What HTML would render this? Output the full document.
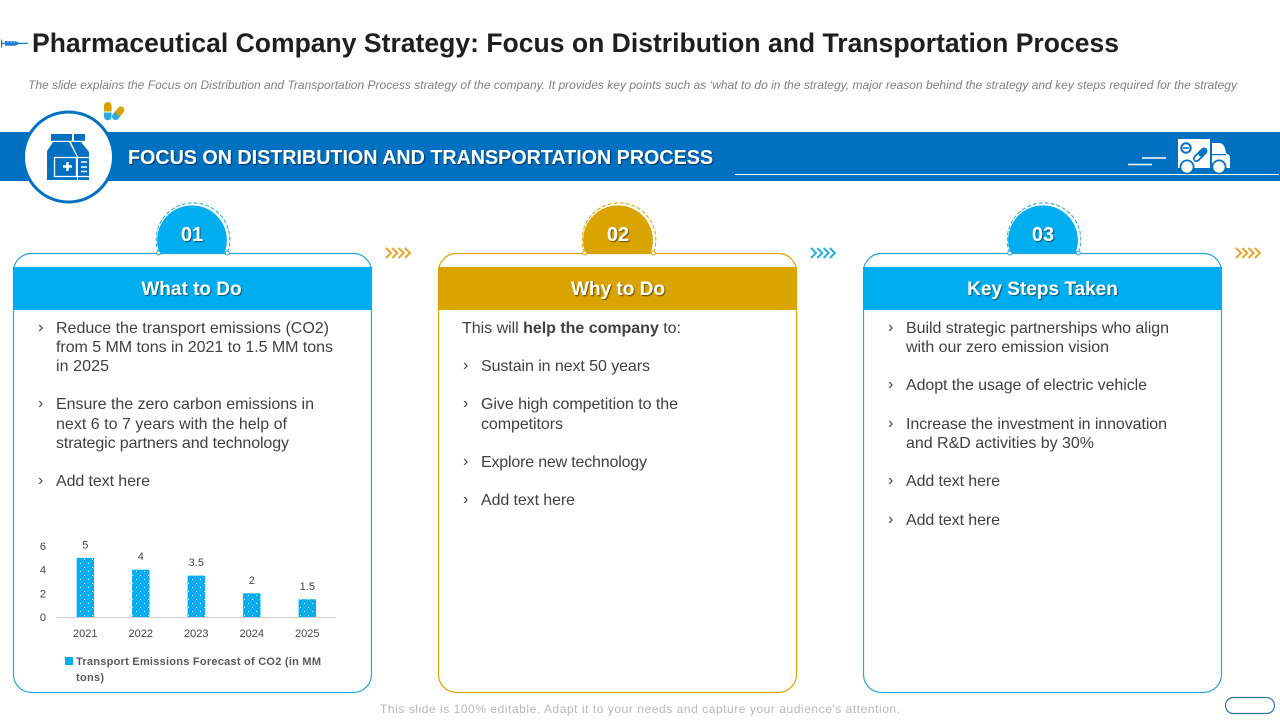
<!DOCTYPE html>
<html lang="en">
<head>
<meta charset="utf-8">
<title>Pharmaceutical Company Strategy</title>
<style>
html,body{margin:0;padding:0;background:#fff;width:1280px;height:720px;overflow:hidden}
svg{display:block;font-family:"Liberation Sans",sans-serif}
.body-text{font-size:16px;fill:#404040}
.head{font-size:19px;font-weight:700;fill:#fff;text-anchor:middle;filter:url(#shadow)}
.num{font-size:20px;font-weight:700;fill:#fff;text-anchor:middle;filter:url(#shadow)}
.tick{font-size:11px;fill:#444}
</style>
</head>
<body>
<svg width="1280" height="720" viewBox="0 0 1280 720">
<defs>
<filter id="shadow" x="-10%" y="-20%" width="120%" height="150%"><feDropShadow dx="1" dy="1" stdDeviation="0.6" flood-color="#000" flood-opacity="0.55"/></filter>
<pattern id="dots" width="8" height="8" patternUnits="userSpaceOnUse"><rect width="8" height="8" fill="#00aeef"/><rect x="0" y="3" width="1" height="1" fill="#e6f8ff"/><rect x="4" y="7" width="1" height="1" fill="#e6f8ff"/></pattern>
<g id="chev" fill="none" stroke-width="2"><path d="M0 -5 L5 0 L0 5"/><path d="M6.300 -5 L11.300 0 L6.300 5"/><path d="M12.600 -5 L17.600 0 L12.600 5"/><path d="M18.900 -5 L23.900 0 L18.900 5"/></g>
</defs>
<rect width="1280" height="720" fill="#fff"/>

<g fill="#1a7fd0"><rect x="1" y="39.500" width="1.200" height="8"/><rect x="2" y="42.700" width="3" height="1.500"/><path d="M5 41H15L19 42.800H28V44H19L15 45.800H5Z"/><path d="M8 41v2M11 41v2M14 41v2" stroke="#cfe6f8" stroke-width="0.800"/></g>
<text x="32" y="52" font-size="27" font-weight="700" fill="#1f1f1f" textLength="1087" lengthAdjust="spacingAndGlyphs">Pharmaceutical Company Strategy: Focus on Distribution and Transportation Process</text>
<text x="28" y="89" font-size="12" font-style="italic" fill="#808080" textLength="1209" lengthAdjust="spacing">The slide explains the Focus on Distribution and Transportation Process strategy of the company. It provides key points such as ‘what to do in the strategy, major reason behind the strategy and key steps required for the strategy</text>

<g>
<path d="M104 111.500V105.800a3.800 3.800 0 0 1 7.600 0V111.500Z" fill="#d9a300"/>
<path d="M104 112.500H111.600V116.500a3.800 3.800 0 0 1 -7.600 0Z" fill="#29abe2"/>
<line x1="115.500" y1="116.500" x2="118" y2="113.500" stroke="#29abe2" stroke-width="7" stroke-linecap="round"/>
<line x1="119" y1="112.300" x2="120.800" y2="110" stroke="#d9a300" stroke-width="7" stroke-linecap="round"/>
</g>

<rect x="0" y="132" width="1280" height="49" fill="#0070c0"/>
<circle cx="68.500" cy="157" r="45" fill="#fff" stroke="#0070c0" stroke-width="3"/>
<g>
<rect x="51" y="134" width="21" height="6.800" fill="#0070c0"/><rect x="74" y="134" width="11" height="6.800" fill="#0070c0"/>
<path d="M53 142H69L77 157V180H47V151Z" fill="#0070c0"/>
<path d="M71 142H81L89 152V180H78V157Z" fill="#0070c0"/>
<rect x="54.500" y="157.500" width="22" height="19" fill="none" stroke="#fff" stroke-width="1.300"/>
<path d="M77 157.500H89M77 176.500H89" stroke="#fff" stroke-width="1.200" fill="none"/>
<path d="M63 166.500h9M67.500 162v9" stroke="#fff" stroke-width="2.400"/>
<path d="M81 162h6M81 167h6M81 171.500h6" stroke="#fff" stroke-width="1.500"/>
</g>
<text x="128" y="164" font-size="20" font-weight="700" fill="#fff" textLength="585" lengthAdjust="spacingAndGlyphs" filter="url(#shadow)">FOCUS ON DISTRIBUTION AND TRANSPORTATION PROCESS</text>
<line x1="735" y1="174.500" x2="1279" y2="174.500" stroke="#fff" stroke-width="1"/>
<g>
<path d="M1142 158h24M1128 164.500h24" stroke="#fff" stroke-width="1.500"/>
<rect x="1178" y="139" width="32" height="29" fill="#fff"/>
<path d="M1212 143h7c4 0 6 3 7 10l4 3v12h-18z" fill="#fff"/>
<rect x="1212" y="154" width="14" height="1.200" fill="#0070c0"/>
<circle cx="1187" cy="167" r="7.500" fill="#0070c0"/><circle cx="1187" cy="167" r="5.700" fill="#fff"/>
<circle cx="1219" cy="167" r="7.500" fill="#0070c0"/><circle cx="1219" cy="167" r="5.700" fill="#fff"/>
<circle cx="1186" cy="148" r="4.700" fill="none" stroke="#0070c0" stroke-width="2"/><path d="M1183 148h6" stroke="#0070c0" stroke-width="1.600"/>
<line x1="1196.500" y1="158.500" x2="1204" y2="151" stroke="#0070c0" stroke-width="7" stroke-linecap="round"/>
<line x1="1196.500" y1="158.500" x2="1204" y2="151" stroke="#fff" stroke-width="3.500" stroke-linecap="round"/>
<line x1="1200.500" y1="154.500" x2="1204" y2="151" stroke="#0070c0" stroke-width="3.500" stroke-linecap="round"/>
</g>

<g>
<rect x="13.500" y="253.500" width="358" height="439" rx="18" fill="#fff" stroke="#2aa5d8" stroke-width="1.200"/>
<rect x="13" y="267" width="359" height="43" fill="#00aeef"/>
<path d="M159.500 253A34.900 34.900 0 1 1 224.500 253Z" fill="#00aeef"/>
<path d="M158.700 253A36.800 36.800 0 1 1 227.300 253" fill="none" stroke="#2aa5d8" stroke-width="1" stroke-dasharray="4 2"/>
<circle cx="158.700" cy="253" r="2" fill="#fff" stroke="#2aa5d8"/><circle cx="227.300" cy="253" r="2" fill="#fff" stroke="#2aa5d8"/>
<text x="192" y="241" class="num">01</text>
<text x="191.500" y="295" class="head">What to Do</text>
<g class="body-text">
<text x="38" y="332">›</text>
<text x="56" y="333" textLength="273">Reduce the transport emissions (CO2)</text>
<text x="56" y="352" textLength="277">from 5 MM tons in 2021 to 1.5 MM tons</text>
<text x="56" y="371" textLength="53">in 2025</text>
<text x="38" y="408">›</text>
<text x="56" y="409" textLength="258">Ensure the zero carbon emissions in</text>
<text x="56" y="429" textLength="231">next 6 to 7 years with the help of</text>
<text x="56" y="448" textLength="233">strategic partners and technology</text>
<text x="38" y="485">›</text>
<text x="56" y="486" textLength="94">Add text here</text>
</g>
</g>
<g id="chart"></g>
<g>
<rect x="65" y="657" width="8" height="8" fill="#00aeef"/>
<text x="76" y="665" font-size="11" font-weight="700" fill="#595959" textLength="245">Transport Emissions Forecast of CO2 (in MM</text>
<text x="76" y="681" font-size="11" font-weight="700" fill="#595959" textLength="28">tons)</text>
</g>
<use href="#chev" x="386" y="253" stroke="#e0a82a"/>

<g>
<rect x="438.500" y="253.500" width="358" height="439" rx="18" fill="#fff" stroke="#d9a300" stroke-width="1.200"/>
<rect x="438" y="267" width="359" height="43" fill="#d9a300"/>
<path d="M585.500 253A34.900 34.900 0 1 1 650.500 253Z" fill="#d9a300"/>
<path d="M584.700 253A36.800 36.800 0 1 1 653.300 253" fill="none" stroke="#d9a300" stroke-width="1" stroke-dasharray="4 2"/>
<circle cx="584.700" cy="253" r="2" fill="#fff" stroke="#d9a300"/><circle cx="653.300" cy="253" r="2" fill="#fff" stroke="#d9a300"/>
<text x="618" y="241" class="num">02</text>
<text x="618" y="295" class="head">Why to Do</text>
<g class="body-text">
<text x="462" y="333" textLength="219">This will <tspan font-weight="700">help the company</tspan> to:</text>
<text x="463" y="370">›</text>
<text x="481" y="371" textLength="169">Sustain in next 50 years</text>
<text x="463" y="408">›</text>
<text x="481" y="409" textLength="197">Give high competition to the</text>
<text x="481" y="429" textLength="82">competitors</text>
<text x="463" y="466">›</text>
<text x="481" y="467" textLength="166">Explore new technology</text>
<text x="463" y="504">›</text>
<text x="481" y="505" textLength="94">Add text here</text>
</g>
</g>
<use href="#chev" x="811" y="253" stroke="#29abe2"/>

<g>
<rect x="863.500" y="253.500" width="358" height="439" rx="18" fill="#fff" stroke="#2aa5d8" stroke-width="1.200"/>
<rect x="863" y="267" width="359" height="43" fill="#00aeef"/>
<path d="M1010.500 253A34.900 34.900 0 1 1 1075.500 253Z" fill="#00aeef"/>
<path d="M1009.700 253A36.800 36.800 0 1 1 1078.300 253" fill="none" stroke="#2aa5d8" stroke-width="1" stroke-dasharray="4 2"/>
<circle cx="1009.700" cy="253" r="2" fill="#fff" stroke="#2aa5d8"/><circle cx="1078.300" cy="253" r="2" fill="#fff" stroke="#2aa5d8"/>
<text x="1043" y="241" class="num">03</text>
<text x="1042.500" y="295" class="head">Key Steps Taken</text>
<g class="body-text">
<text x="888" y="332">›</text>
<text x="906" y="333" textLength="263">Build strategic partnerships who align</text>
<text x="906" y="352" textLength="203">with our zero emission vision</text>
<text x="888" y="389">›</text>
<text x="906" y="390" textLength="241">Adopt the usage of electric vehicle</text>
<text x="888" y="428">›</text>
<text x="906" y="429" textLength="261">Increase the investment in innovation</text>
<text x="906" y="448" textLength="188">and R&amp;D activities by 30%</text>
<text x="888" y="485">›</text>
<text x="906" y="486" textLength="94">Add text here</text>
<text x="888" y="524">›</text>
<text x="906" y="525" textLength="94">Add text here</text>
</g>
</g>
<use href="#chev" x="1236" y="253" stroke="#e0a82a"/>

<text x="380" y="713" font-size="12" fill="#b8b8b8" textLength="520" lengthAdjust="spacing">This slide is 100% editable. Adapt it to your needs and capture your audience's attention.</text>
<rect x="1225.500" y="697.500" width="49" height="16" rx="8" fill="#fff" stroke="#2e75a0" stroke-width="1.200"/>
</svg>
<script>
const categories = ['2021', '2022', '2023', '2024', '2025'];
const emissions = [5, 4, 3.5, 2, 1.5];
const yTicks = [0, 2, 4, 6];

const NS = 'http://www.w3.org/2000/svg';
const chart = document.getElementById('chart');
function xScale(i) { return 85.3 + i * 55.5; }
function yScale(v) { return 617 - v * 11.83; }
function add(tag, attrs, text) {
  const el = document.createElementNS(NS, tag);
  for (const k in attrs) el.setAttribute(k, attrs[k]);
  if (text !== undefined) el.textContent = text;
  chart.appendChild(el);
  return el;
}
yTicks.forEach(function (t) {
  const el = add('text', { x: 46, y: yScale(t) + 4, 'text-anchor': 'end', 'class': 'tick' }, t);
  
  
});
const axis = add('line', { x1: 57, x2: 336, y1: yScale(0) + 0.5, y2: yScale(0) + 0.5, stroke: '#d0d0d0', 'stroke-width': 1 });


categories.forEach(function (c, i) {
  const top = yScale(emissions[i]);
  const bar = add('rect', { x: xScale(i) - 8.7, y: top, width: 17.4, height: yScale(0) - top, fill: 'url(#dots)' });
  
  
  const val = add('text', { x: xScale(i), y: top - 9.5, 'text-anchor': 'middle', 'class': 'tick' }, emissions[i]);
  
  
  const lab = add('text', { x: xScale(i), y: 637, 'text-anchor': 'middle', 'class': 'tick' }, c);
  
  
});
</script>
</body>
</html>
